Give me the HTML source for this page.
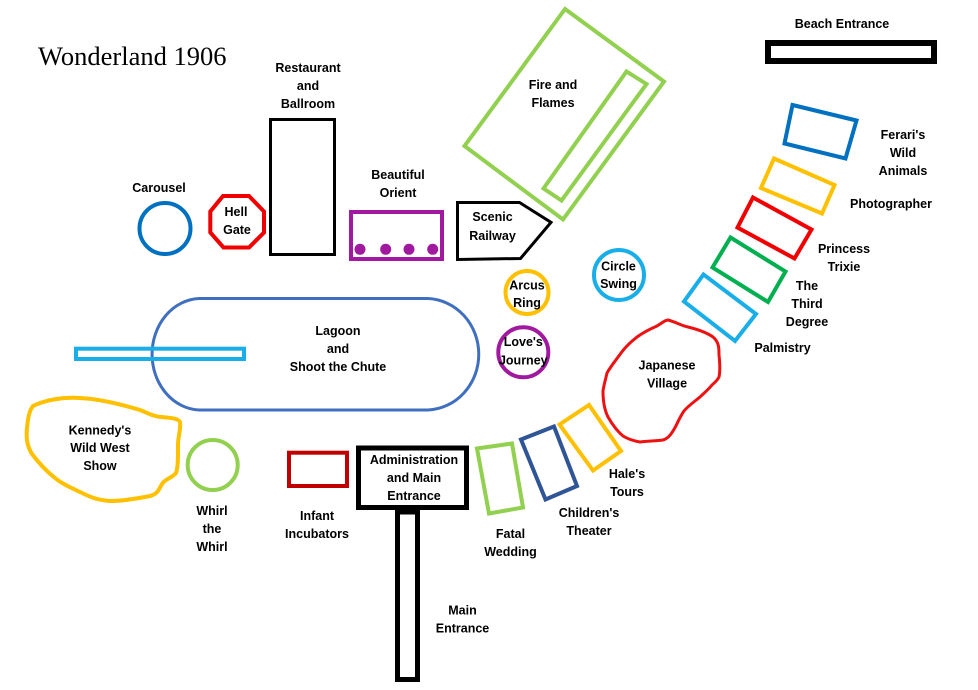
<!DOCTYPE html>
<html><head><meta charset="utf-8"><style>
html,body{margin:0;padding:0;background:#fff;}
svg{display:block;}
.t{font-family:"Liberation Sans",Arial,sans-serif;font-weight:bold;font-size:12.5px;fill:#000;text-anchor:middle;}
</style></head><body>
<svg width="978" height="690" viewBox="0 0 978 690" xmlns="http://www.w3.org/2000/svg">
<rect x="0" y="0" width="978" height="690" fill="#fff"/>
<text x="38" y="65" style="font-family:'Liberation Serif','Times New Roman',serif;font-size:26.5px;fill:#000;">Wonderland 1906</text>

<!-- Beach entrance -->
<rect x="768" y="43" width="166" height="18" fill="none" stroke="#000" stroke-width="6"/>
<text class="t" x="842" y="28">Beach Entrance</text>

<!-- Restaurant -->
<rect x="270.5" y="119.5" width="64" height="135" fill="none" stroke="#000" stroke-width="3"/>
<text class="t" x="308" y="72">Restaurant</text>
<text class="t" x="308" y="90">and</text>
<text class="t" x="308" y="108">Ballroom</text>

<!-- Carousel -->
<circle cx="165" cy="228.5" r="25.5" fill="none" stroke="#0070C0" stroke-width="4"/>
<text class="t" x="159" y="192">Carousel</text>

<!-- Hell Gate -->
<polygon points="223,196 249,196 264,211.5 264,232.5 249,247.5 223.5,247.5 210.3,232.5 210.3,211.5" fill="none" stroke="#F00000" stroke-width="4"/>
<text class="t" x="236" y="216">Hell</text>
<text class="t" x="237" y="234">Gate</text>

<!-- Beautiful Orient -->
<rect x="351" y="212" width="91" height="47" fill="none" stroke="#A0199F" stroke-width="4"/>
<circle cx="360" cy="249.3" r="5.5" fill="#A0199F"/>
<circle cx="385.7" cy="249.3" r="5.5" fill="#A0199F"/>
<circle cx="409" cy="249.3" r="5.5" fill="#A0199F"/>
<circle cx="432.7" cy="249.3" r="5.5" fill="#A0199F"/>
<text class="t" x="398" y="179">Beautiful</text>
<text class="t" x="398" y="197">Orient</text>

<!-- Fire and Flames -->
<polygon points="565,9 664,81.5 563,219.5 464.5,146" fill="none" stroke="#92D050" stroke-width="4"/>
<polygon points="626.5,71.5 646.5,84 561.5,200.5 543.5,188.5" fill="none" stroke="#92D050" stroke-width="4"/>
<text class="t" x="553" y="89">Fire and</text>
<text class="t" x="553" y="107">Flames</text>

<!-- Scenic Railway -->
<polygon points="457.5,202.5 519.5,202.5 551,222.3 520.5,258.5 457.5,259.5" fill="none" stroke="#000" stroke-width="3"/>
<text class="t" x="492.5" y="221">Scenic</text>
<text class="t" x="492.5" y="240">Railway</text>

<!-- Arcus Ring -->
<circle cx="527" cy="292.5" r="21.5" fill="none" stroke="#FFC000" stroke-width="4"/>
<text class="t" x="527" y="289.5">Arcus</text>
<text class="t" x="527" y="307">Ring</text>

<!-- Love's Journey -->
<circle cx="523.3" cy="352.3" r="25" fill="none" stroke="#A0199F" stroke-width="4"/>
<text class="t" x="523.3" y="346">Love's</text>
<text class="t" x="523.3" y="364.5">Journey</text>

<!-- Circle Swing -->
<circle cx="619" cy="275" r="25" fill="none" stroke="#1AAEE8" stroke-width="4"/>
<text class="t" x="618.5" y="270.5">Circle</text>
<text class="t" x="618.5" y="288">Swing</text>

<!-- Lagoon -->
<path d="M199,298.5 L428,298.5 A53,55.8 0 0 1 428,410 L199,410 A49,55.8 0 0 1 199,298.5 Z" fill="none" stroke="#3F6FBE" stroke-width="3"/>
<text class="t" x="338" y="335">Lagoon</text>
<text class="t" x="338" y="353">and</text>
<text class="t" x="338" y="371">Shoot the Chute</text>

<!-- Chute -->
<rect x="76" y="348.7" width="168" height="10.3" fill="none" stroke="#1AAEE8" stroke-width="4"/>

<!-- Kennedy's blob -->
<path d="M33,406 C45,400 62,397 80,398 C100,399 120,404 140,410 C150,414 155,417 162,417 C170,418 178,418 180,422 C181,430 178,436 178,445 C178,458 178,468 176,473 C172,478 165,479 162,484 C159,489 158,494 150,496 C140,498 125,501 110,501 C96,500 88,496 80,492 C70,487 62,484 55,478 C45,470 38,462 32,454 C27,446 26,438 27,428 C28,418 29,411 33,406 Z" fill="none" stroke="#FFC000" stroke-width="4"/>
<text class="t" x="100" y="434.5">Kennedy's</text>
<text class="t" x="100" y="452">Wild West</text>
<text class="t" x="100" y="470">Show</text>

<!-- Whirl -->
<circle cx="212.7" cy="465" r="25" fill="none" stroke="#92D050" stroke-width="4"/>
<text class="t" x="212" y="515">Whirl</text>
<text class="t" x="212" y="533">the</text>
<text class="t" x="212" y="551">Whirl</text>

<!-- Infant -->
<rect x="289" y="452.7" width="58" height="33.3" fill="none" stroke="#C00000" stroke-width="4"/>
<text class="t" x="317" y="520">Infant</text>
<text class="t" x="317" y="538">Incubators</text>

<!-- Admin -->
<rect x="397.5" y="512" width="20" height="167.5" fill="none" stroke="#000" stroke-width="5"/>
<rect x="358.5" y="448" width="108" height="59.5" fill="#fff" stroke="#000" stroke-width="5"/>
<text class="t" x="414" y="464">Administration</text>
<text class="t" x="414" y="482">and Main</text>
<text class="t" x="414" y="500">Entrance</text>
<text class="t" x="462.5" y="614.5">Main</text>
<text class="t" x="462.5" y="632.5">Entrance</text>

<!-- Fatal Wedding -->
<polygon points="477,448.5 512,443.5 523,507.5 489,513.5" fill="none" stroke="#92D050" stroke-width="4"/>
<text class="t" x="510.5" y="538">Fatal</text>
<text class="t" x="510.5" y="556">Wedding</text>

<!-- Children's Theater -->
<polygon points="521,439.5 554,426.5 577,486 545.5,499.5" fill="none" stroke="#2F5597" stroke-width="4"/>
<text class="t" x="589" y="517">Children's</text>
<text class="t" x="589" y="535">Theater</text>

<!-- Hale's Tours -->
<polygon points="559.5,424.5 589,405 621,451 593,470.5" fill="none" stroke="#FFC000" stroke-width="4"/>
<text class="t" x="627" y="478">Hale's</text>
<text class="t" x="627" y="496">Tours</text>

<!-- Japanese Village -->
<path d="M668,320 C676,322 682,326 688,327 C696,329 706,332 713,337 C719,342 719,348 719,355 C720,364 720,372 719,377 C717,381 714,383 712,385 C708,390 704,393 700,397 C694,402 688,406 684,411 C679,418 677,425 673,431 C670,436 667,439 663,440 C656,441 647,441 640,442 C634,441 628,439 623,436 C617,431 612,424 608,417 C604,409 603,399 603,391 C604,384 606,378 607,373 C611,366 616,360 621,353 C626,346 631,342 637,337 C644,332 650,329 657,326 C662,323 665,320 668,320 Z" fill="none" stroke="#EE1111" stroke-width="3"/>
<text class="t" x="667" y="369.5">Japanese</text>
<text class="t" x="667" y="387.5">Village</text>

<!-- Right column -->
<polygon points="792.5,105 856.5,120.5 845.5,158.5 784.5,143.5" fill="none" stroke="#0070C0" stroke-width="4"/>
<text class="t" x="903" y="139">Ferari's</text>
<text class="t" x="903" y="157">Wild</text>
<text class="t" x="903" y="175">Animals</text>

<polygon points="774,158.5 834.5,185 822,213.5 761,188" fill="none" stroke="#FFC000" stroke-width="4"/>
<text class="t" x="891" y="208">Photographer</text>

<polygon points="753,197.5 811.5,229.5 794.5,258.5 737.5,227.5" fill="none" stroke="#F00000" stroke-width="4"/>
<text class="t" x="844" y="253">Princess</text>
<text class="t" x="844" y="271">Trixie</text>

<polygon points="730.5,237.5 785.5,271.5 768,302 712.5,267.5" fill="none" stroke="#00B050" stroke-width="4"/>
<text class="t" x="807" y="290">The</text>
<text class="t" x="807" y="308">Third</text>
<text class="t" x="807" y="326">Degree</text>

<polygon points="703.5,274.5 756,314 735,341 684,301.5" fill="none" stroke="#1AAEE8" stroke-width="4"/>
<text class="t" x="782.5" y="352">Palmistry</text>
</svg>
</body></html>
